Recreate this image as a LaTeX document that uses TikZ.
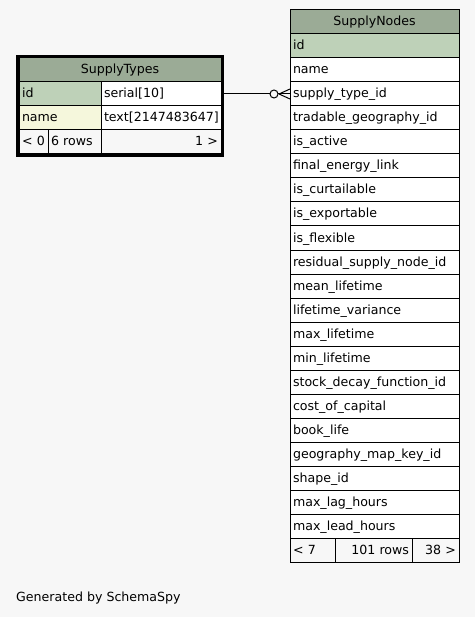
\documentclass[tikz,border=0pt]{standalone}
\usepackage{fontspec}
\setmainfont{DejaVu Sans}
\usepackage{tikz}
\usetikzlibrary{positioning}

\definecolor{pagebg}{HTML}{F7F7F7}
\definecolor{headbg}{HTML}{9BAB96}
\definecolor{keybg}{HTML}{BED1B8}
\definecolor{indexbg}{HTML}{F5F7DC}

\tikzset{
  cellbox/.style={draw=black, line width=1pt, fill=white, anchor=north west,
    minimum height=24pt, inner xsep=3pt, inner ysep=0pt, outer sep=0pt,
    text height=10pt, text depth=2pt, align=left,
    font=\fontsize{12.6}{15}\selectfont},
  headcell/.style={cellbox, fill=headbg, align=center},
  keycell/.style={cellbox, fill=keybg},
  indexcell/.style={cellbox, fill=indexbg},
  footcell/.style={cellbox, fill=pagebg},
  relline/.style={draw=black, line width=1pt}
}

\begin{document}
\begin{tikzpicture}[x=1pt, y=-1pt]
  \fill [pagebg] (0,0) rectangle (475,617);
  \useasboundingbox (0,0) rectangle (475,617);

  % SupplyTypes
  \node [headcell, text width=196pt] (stHead) at (19,58) {SupplyTypes};
  \node [keycell, text width=76pt] (stIdName) at (19,82) {id};
  \node [cellbox, text width=114pt] (stIdType) at (101,82) {serial[10]};
  \node [indexcell, text width=76pt] (stNameName) at (19,106) {name};
  \node [cellbox, text width=114pt] (stNameType) at (101,106) {text[2147483647]};
  \node [footcell, text width=23pt] (stFootL) at (19,130) {< 0};
  \node [footcell, text width=47pt] (stFootM) at (48,130) {6 rows};
  \node [footcell, text width=114pt, align=right] (stFootR) at (101,130) {1 >};
  \draw [line width=3pt] ([shift={(-1.5,-1.5)}]stHead.north west) rectangle ([shift={(1.5,1.5)}]stFootR.south east);

  % SupplyNodes
  \node [headcell, text width=163pt] (snHead) at (290,10) {SupplyNodes};
  \node [keycell, text width=163pt] (snId) at (290,34) {id};
  \foreach \col [count=\i] in {name, supply\_type\_id, tradable\_geography\_id,
      is\_active, final\_energy\_link, is\_curtailable, is\_exportable,
      is\_flexible, residual\_supply\_node\_id, mean\_lifetime,
      lifetime\_variance, max\_lifetime, min\_lifetime,
      stock\_decay\_function\_id, cost\_of\_capital, book\_life,
      geography\_map\_key\_id, shape\_id, max\_lag\_hours, max\_lead\_hours}
    \node [cellbox, text width=163pt] (sn\i) at (290,{34+24*\i}) {\col};
  \node [footcell, text width=39pt] (snFootL) at (290,538) {< 7};
  \node [footcell, text width=71pt, align=right] (snFootM) at (335,538) {101 rows};
  \node [footcell, text width=41pt, align=right] (snFootR) at (412,538) {38 >};

  % supply_type_id -> SupplyTypes.id
  \coordinate (fkRing) at ([xshift=-16pt]sn2.west);
  \coordinate (fkFoot) at ([xshift=-11pt]sn2.west);
  \draw [relline] (stIdType.east) -- ([xshift=-4pt]fkRing);
  \draw [relline, fill=pagebg] (fkRing) circle (4pt);
  \draw [relline] ([xshift=4pt]fkRing) -- (sn2.west);
  \draw [relline] (fkFoot) -- ([yshift=-5pt]sn2.west);
  \draw [relline] (fkFoot) -- ([yshift=5pt]sn2.west);

  \node [anchor=base west, inner sep=0pt, font=\fontsize{12.6}{15}\selectfont] (credit) at (16,601.5) {Generated by SchemaSpy};
\end{tikzpicture}
\end{document}
